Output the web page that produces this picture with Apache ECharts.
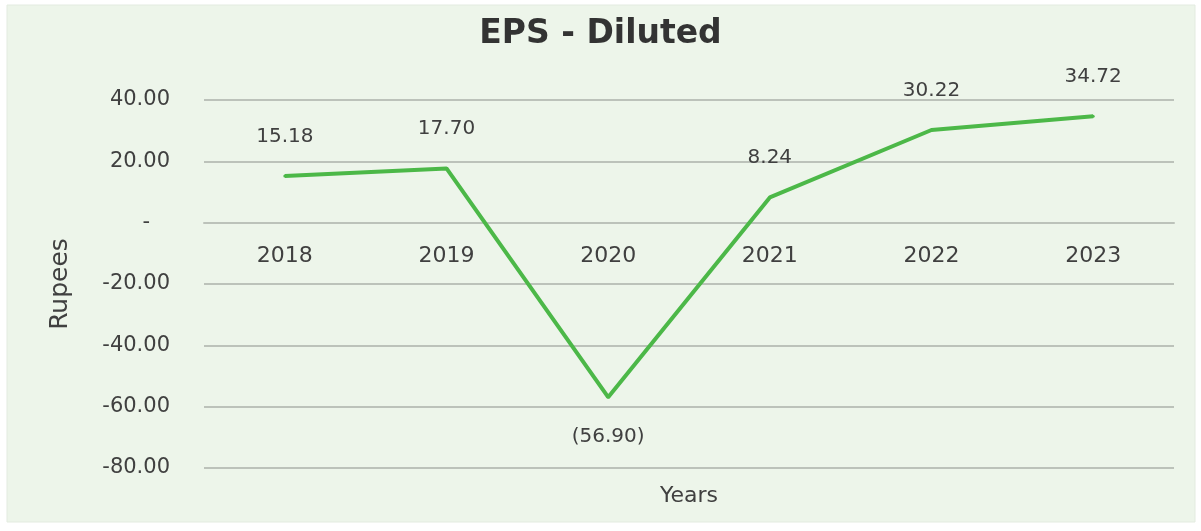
<!DOCTYPE html>
<html>
<head>
<meta charset="utf-8">
<script src="https://cdn.jsdelivr.net/npm/echarts@6/dist/echarts.min.js"></script>
<style>
  html, body { margin: 0; padding: 0; background: #ffffff; }
  #chart { width: 1201px; height: 531px; }
</style>
</head>
<body>
<div id="chart"></div>
<script>
// Diluted earnings per share by fiscal year (Rupees)
const years = ['2018', '2019', '2020', '2021', '2022', '2023'];
const epsDiluted = [15.18, 17.70, -56.90, 8.24, 30.22, 34.72];
const yTicks = { min: -80, max: 40, step: 20 };

const chart = echarts.init(document.getElementById('chart'));
const font = '"DejaVu Sans", Verdana, sans-serif';
const textColor = '#404040';
const lineColor = '#4cb848';
const gridColor = '#bcc2ba';

// Plot area geometry
const gridTop = 100, gridBottom = 63, chartH = 531;
const plotH = chartH - gridTop - gridBottom;
// The category axis sits on the zero line of the value axis
const zeroOffset = -plotH * (0 - yTicks.min) / (yTicks.max - yTicks.min);

// Accounting-style ticks: zero shown as a dash
function fmtTick(v) {
  if (v === 0) return '-   ';
  return v.toFixed(2);
}
function fmtValue(v) {
  return v < 0 ? '(' + Math.abs(v).toFixed(2) + ')' : v.toFixed(2);
}

// Positive values labelled above the point, negative ones below
const seriesData = epsDiluted.map(v => ({
  value: v,
  label: { position: v < 0 ? 'bottom' : 'top' }
}));

chart.setOption({
  animation: false,
  backgroundColor: '#ffffff',
  graphic: [{
    type: 'rect',
    shape: { x: 7, y: 5, width: 1188, height: 517 },
    style: { fill: '#edf5ea', stroke: '#e3ebe0', lineWidth: 1 },
    z: -10
  }],
  title: {
    text: 'EPS - Diluted',
    left: 'center',
    top: 13,
    textStyle: { fontFamily: font, fontSize: 33, fontWeight: 'bold', color: '#333333' }
  },
  grid: { left: 204, right: 27, top: gridTop, bottom: gridBottom, containLabel: false, outerBoundsMode: 'none' },
  xAxis: {
    type: 'category',
    data: years,
    boundaryGap: true,
    position: 'bottom',
    offset: zeroOffset,
    axisLine: { show: true, onZero: false, lineStyle: { color: gridColor, width: 2 } },
    axisTick: { show: false },
    axisLabel: { color: textColor, fontSize: 22, fontFamily: font, margin: 23 },
    name: 'Years',
    nameLocation: 'middle',
    nameGap: 263,
    nameTextStyle: { color: textColor, fontSize: 22, fontFamily: font }
  },
  yAxis: {
    type: 'value',
    min: yTicks.min,
    max: yTicks.max,
    interval: yTicks.step,
    axisLine: { show: false },
    axisTick: { show: false },
    splitLine: { lineStyle: { color: gridColor, width: 2 } },
    axisLabel: { color: textColor, fontSize: 21, fontFamily: font, margin: 34, formatter: fmtTick },
    name: 'Rupees',
    nameLocation: 'middle',
    nameGap: 131,
    nameTextStyle: { color: textColor, fontSize: 25, fontFamily: font }
  },
  series: [{
    type: 'line',
    data: seriesData,
    symbol: 'circle',
    symbolSize: 3,
    showSymbol: true,
    itemStyle: { color: lineColor },
    lineStyle: { color: lineColor, width: 4 },
    label: {
      show: true,
      color: textColor,
      fontSize: 20,
      fontFamily: font,
      distance: 28,
      formatter: p => fmtValue(p.value)
    }
  }]
});
</script>
</body>
</html>
